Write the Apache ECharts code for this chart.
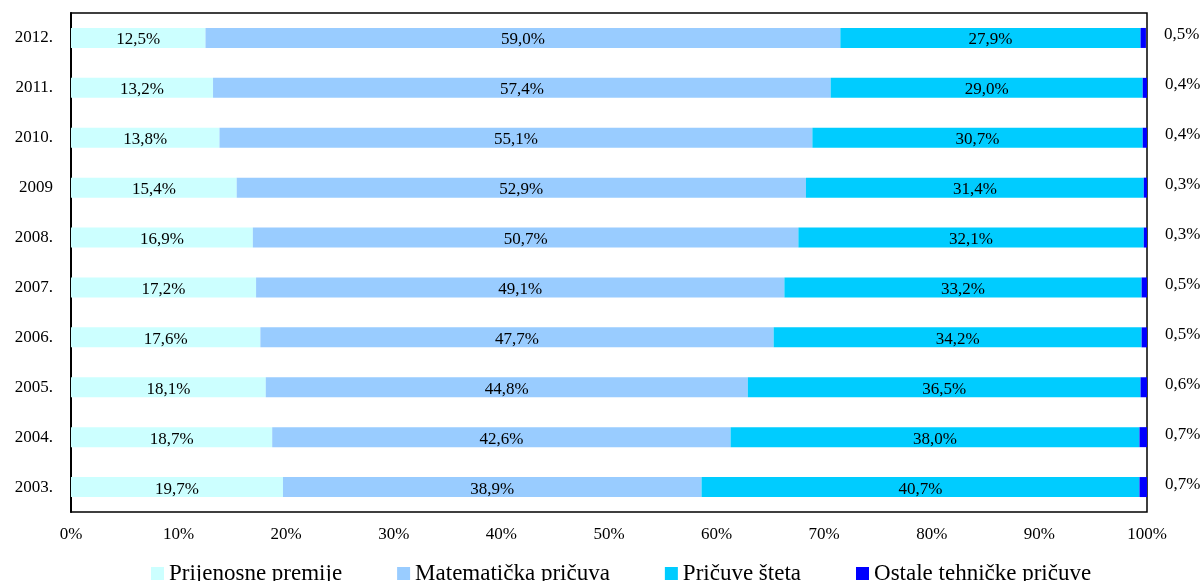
<!DOCTYPE html>
<html lang="hr" style="height: 100%">

<head>
    <meta charset="utf-8">
    <title>Struktura tehničkih pričuva</title>
    <script src="https://cdn.jsdelivr.net/npm/echarts@6/dist/echarts.min.js"></script>
</head>

<body style="height: 100%;margin: 0;background:#fff">
    <div id="main" style="width:1204px;height:581px"></div>

    <script>
        // podaci (odozdo prema gore)
        const years = ['2003.', '2004.', '2005.', '2006.', '2007.', '2008.', '2009', '2010.', '2011.', '2012.'];
        const prijenosnePremije = [19.7, 18.7, 18.1, 17.6, 17.2, 16.9, 15.4, 13.8, 13.2, 12.5];
        const matematickaPricuva = [38.9, 42.6, 44.8, 47.7, 49.1, 50.7, 52.9, 55.1, 57.4, 59.0];
        const pricuveSteta = [40.7, 38.0, 36.5, 34.2, 33.2, 32.1, 31.4, 30.7, 29.0, 27.9];
        const ostalePricuve = [0.7, 0.7, 0.6, 0.5, 0.5, 0.3, 0.3, 0.4, 0.4, 0.5];
        const seriesNames = ['Prijenosne premije', 'Matematička pričuva', 'Pričuve šteta', 'Ostale tehničke pričuve'];
        const colors = ['#CCFFFF', '#99CCFF', '#00CCFF', '#0000FF'];

        const font = '"Liberation Serif", "Times New Roman", serif';
        const fmt = v => v.toFixed(1).replace('.', ',') + '%';

        const myChart = echarts.init(document.getElementById('main'), null, { renderer: 'canvas' });

        const allData = [prijenosnePremije, matematickaPricuva, pricuveSteta, ostalePricuve];
        const series = allData.map((d, i) => ({
            name: seriesNames[i],
            type: 'bar',
            stack: 'total',
            barWidth: 20,
            itemStyle: { color: colors[i] },
            label: i < 3 ? {
                show: true,
                position: 'inside',
                color: '#000',
                fontFamily: font,
                fontSize: 17,
                offset: [0, 2],
                formatter: p => fmt(p.value)
            } : {
                show: true,
                position: 'right',
                distance: 18,
                color: '#000',
                fontFamily: font,
                fontSize: 17,
                offset: [0, -3],
                formatter: p => fmt(p.value)
            },
            data: d
        }));

        const option = {
            animation: false,
            backgroundColor: '#fff',
            textStyle: { fontFamily: font },
            grid: {
                left: 71,
                right: 57,
                top: 13,
                bottom: 69,
                show: true,
                borderColor: '#000',
                borderWidth: 1.5
            },
            legend: {
                left: 146,
                top: 557,
                itemWidth: 13,
                itemHeight: 13,
                itemGap: 55,
                icon: 'rect',
                textStyle: { fontFamily: font, fontSize: 23, color: '#000' },
                data: seriesNames
            },
            xAxis: {
                type: 'value',
                min: 0,
                max: 100,
                interval: 10,
                axisLine: { show: false },
                axisTick: { show: false },
                splitLine: { show: false },
                axisLabel: {
                    formatter: '{value}%',
                    color: '#000',
                    fontFamily: font,
                    fontSize: 17,
                    margin: 14
                }
            },
            yAxis: {
                type: 'category',
                data: years,
                axisLine: { show: true, lineStyle: { color: '#000', width: 2 } },
                axisTick: { show: false },
                axisLabel: {
                    color: '#000',
                    fontFamily: font,
                    fontSize: 17,
                    margin: 18
                }
            },
            series: series
        };

        myChart.setOption(option);
    </script>
</body>

</html>
